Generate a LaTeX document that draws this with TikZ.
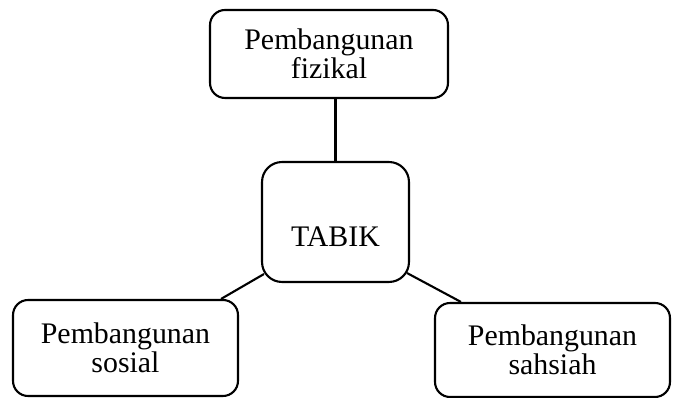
\documentclass[tikz,border=0pt]{standalone}
\usepackage{fontspec}
\setmainfont{Liberation Serif}
\usetikzlibrary{positioning}

\begin{document}
\begin{tikzpicture}[x=0.02cm, y=-0.02cm, box/.style = {draw, line width=1.2pt, fill=white, rounded corners=15*0.02cm, align=center, inner sep=0pt, font=\fontsize{17}{14.8}\selectfont}]
    \useasboundingbox (0,0) rectangle (673,398);

    \node at (329,54) [box, minimum width=4.76cm, minimum height=1.76cm] (fizikal) {Pembangunan\\fizikal};
    \node at (335.5,222) [box, rounded corners=20*0.02cm, minimum width=2.94cm, minimum height=2.4cm, text height=1cm, text depth=0pt] (tabik) {TABIK};
    \node at (125.5,348) [box, minimum width=4.5cm, minimum height=1.92cm] (sosial) {Pembangunan\\sosial};
    \node at (552.5,350) [box, minimum width=4.7cm, minimum height=1.88cm] (sahsiah) {Pembangunan\\sahsiah};

    %links
    \draw[line width=1.2pt] (tabik.north |- fizikal.south) -- (tabik.north);
    \draw[line width=1.2pt] ([shift={(3,-9)}]tabik.south west) -- ([shift={(-18,0)}]sosial.north east);
    \draw[line width=1.2pt] ([shift={(-3,-10)}]tabik.south east) -- ([shift={(27,0)}]sahsiah.north west);

\end{tikzpicture}
\end{document}
